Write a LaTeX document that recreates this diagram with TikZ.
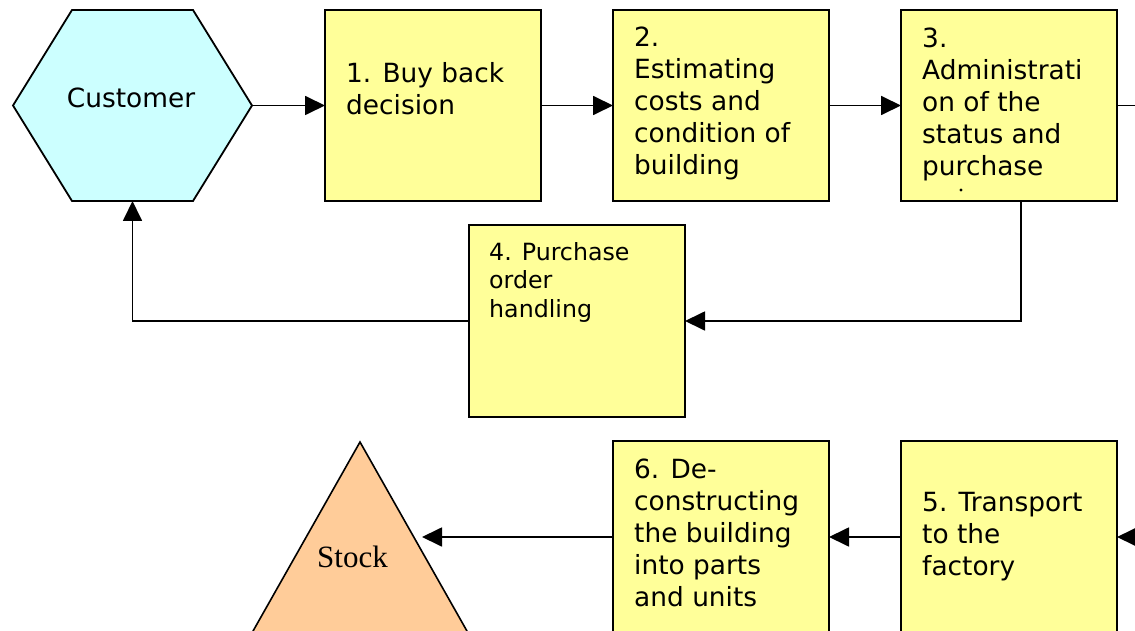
\documentclass[tikz,border=0pt]{standalone}
\usepackage{fontspec}
\setmainfont{DejaVu Sans}
\newfontfamily\stockfont{Liberation Serif}
\usetikzlibrary{arrows.meta}
\definecolor{procyellow}{HTML}{FFFF99}
\definecolor{custcyan}{HTML}{CCFFFF}
\definecolor{stockorange}{HTML}{FFCC99}
\tikzset{
  procbox/.style={draw=black, fill=procyellow, line width=2pt, minimum width=216pt,
                  inner sep=0pt, outer sep=0pt},
  % anchored at the baseline of the last line
  boxtext/.style={anchor=base west, align=left, inner sep=0pt,
                  font=\fontsize{26.4}{32}\selectfont},
  smalltext/.style={anchor=base west, align=left, inner sep=0pt,
                  font=\fontsize{23.7}{28.7}\selectfont},
  flow/.style={line width=1.8pt, -{Triangle[length=20pt,width=19pt]}},
  plainline/.style={line width=1.8pt}
}
\begin{document}
\begin{tikzpicture}[x=1pt,y=-1pt]
\useasboundingbox (0,0) rectangle (1135,631);
\clip (0,0) rectangle (1135,631);

% customer hexagon
\draw[fill=custcyan, line width=1.8pt]
  (13,105.5) -- (72,10) -- (193,10) -- (252,105.5) -- (193,201) -- (72,201) -- cycle;
\coordinate (custE) at (252,105.5);
\coordinate (custS) at (132.5,201);
\node[anchor=base, inner sep=0pt, font=\fontsize{26.4}{32}\selectfont] (custtext) at (131,107.3) {Customer};

% stock triangle
\draw[fill=stockorange, line width=1.6pt] (360,442) -- (506,700) -- (214,700) -- cycle;
\coordinate (stockin) at (422,537);
\node[anchor=base, inner sep=0pt, font=\stockfont\fontsize{31}{36}\selectfont] (stocktext) at (352.5,567.3) {Stock};

% process boxes
\node[procbox, minimum height=191pt] (b1) at (433,105.5) {};
\node[procbox, minimum height=191pt] (b2) at (721,105.5) {};
\node[procbox, minimum height=191pt] (b3) at (1009,105.5) {};
\node[procbox, minimum height=192pt] (b4) at (577,321) {};
\node[procbox, minimum height=219pt] (b5) at (1009,550.5) {};
\node[procbox, minimum height=219pt] (b6) at (721,550.5) {};

\node[boxtext] (t1) at (346,114.3) {1. Buy back\\decision};
\node[boxtext] (t2) at (634,174.5) {2.\\Estimating\\costs and\\condition of\\building};
\node[boxtext] (t3) at (922,175.5) {3.\\Administrati\\on of the\\status and\\purchase};
\fill (961,190) circle (1.6pt);
\node[smalltext] (t4) at (489,317.5) {4. Purchase\\order\\handling};
\node[boxtext] (t5) at (922,575) {5. Transport\\to the\\factory};
\node[boxtext] (t6) at (634,606.7) {6. De-\\constructing\\the building\\into parts\\and units};

% connectors
\coordinate (outR) at (1140,105.5);
\coordinate (inR) at (1140,537);
\draw[flow] (custE) -- (b1.west);
\draw[flow] (b1.east) -- (b2.west);
\draw[flow] (b2.east) -- (b3.west);
\draw[plainline] (b3.east) -- (outR);
\draw[flow] ([xshift=12pt]b3.south) |- (b4.east);
\draw[flow] (b4.west) -| (custS);
\draw[flow] (inR) -- (inR -| b5.east);
\draw[flow] (b5.west |- inR) -- (b6.east |- inR);
\draw[flow] (b6.west |- inR) -- (stockin);
\end{tikzpicture}
\end{document}
